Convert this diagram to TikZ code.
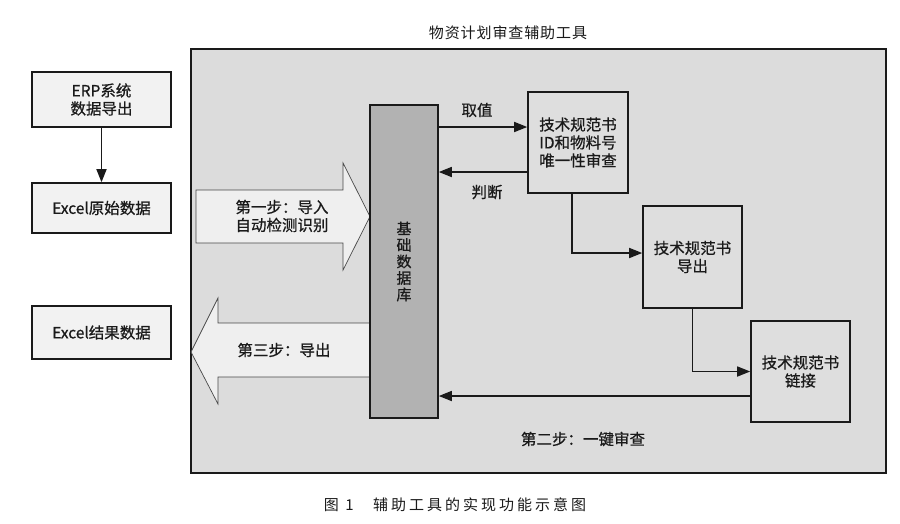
\documentclass[tikz,border=0pt]{standalone}
\usepackage{fontspec}
\setmainfont{Noto Sans CJK SC}
\newfontfamily\boxfont{Noto Sans CJK SC}[FakeBold=0.7]
\newfontfamily\capfont{Noto Sans CJK SC}[LetterSpace=20]
\usetikzlibrary{arrows.meta,calc}
\definecolor{framebg}{HTML}{DCDCDC}
\definecolor{boxbg}{HTML}{DEDEDE}
\definecolor{outbg}{HTML}{F2F2F2}
\definecolor{bigarr}{HTML}{EFEFEF}
\definecolor{dbbg}{HTML}{B2B2B2}
\definecolor{ink}{HTML}{1A1A1A}
\begin{document}
\begin{tikzpicture}[x=1pt,y=-1pt,
  txt/.style={font=\boxfont\fontsize{15.5}{18}\selectfont, text=ink, align=center},
  outbox/.style={draw=ink, line width=1.6pt, fill=outbg, inner sep=0pt, txt},
  inbox/.style={draw=ink, line width=1.6pt, fill=boxbg, inner sep=0pt, txt},
  arr/.style={draw=ink, line width=1.6pt, -{Triangle[length=13pt,width=10pt]}},
  bigarrow/.style={draw=ink!80, line width=0.7pt, fill=bigarr},
  lbl/.style={txt, inner sep=0pt}
]
\useasboundingbox (0,0) rectangle (900,523);
\fill[white] (0,0) rectangle (900,523);
% title
\node[lbl, font=\fontsize{15}{18}\selectfont\addfontfeature{LetterSpace=6}] (title) at (508,33) {物资计划审查辅助工具};
% frame
\node[draw=ink, line width=1.6pt, fill=framebg, minimum width=695pt, minimum height=424pt, inner sep=0pt] (frame) at (538.5,261) {};
% left boxes
\node[outbox, minimum width=139pt, minimum height=55pt] (erp) at (101.5,99.5) {ERP系统\\数据导出};
\node[outbox, minimum width=139pt, minimum height=50pt] (xls1) at (101.5,208) {Excel原始数据};
\node[outbox, minimum width=139pt, minimum height=53pt] (xls2) at (101.5,332.5) {Excel结果数据};
\draw[arr] (erp.south) -- (xls1.north);
% big arrows
\draw[bigarrow] (196,190) -- (343,190) -- (343,163) -- (370,216.5) -- (343,270) -- (343,243) -- (196,243) -- cycle;
\draw[bigarrow] (372,323) -- (218,323) -- (218,298) -- (191,352) -- (218,404) -- (218,377) -- (372,377);
\node[lbl] (step1) at (282,216) {第一步：导入\\自动检测识别};
\node[lbl] (step3) at (284,350) {第三步：导出};
% database column
\node[draw=ink, line width=1.6pt, fill=dbbg, minimum width=68pt, minimum height=313pt, inner sep=0pt,
      font=\boxfont\fontsize{15}{16.5}\selectfont, text=ink, align=center] (db) at (404,261.5) {基\\础\\数\\据\\库};
% right boxes
\node[inbox, minimum width=100pt, minimum height=101pt] (b1) at (578,142.5) {技术规范书\\ID和物料号\\唯一性审查};
\node[inbox, minimum width=99pt, minimum height=102pt] (b2) at (692.5,257) {技术规范书\\导出};
\node[inbox, minimum width=99pt, minimum height=101pt] (b3) at (800.5,371.5) {技术规范书\\链接};
% connectors
\draw[arr] (db.east |- 0,127) -- (b1.west |- 0,127);
\draw[arr] (b1.west |- 0,172) -- (db.east |- 0,172);
\draw[arr] (b1.south -| 572,0) |- (b2.west |- 0,253);
\draw[arr] (b2.south) |- (b3.west);
\draw[arr] (b3.west |- 0,396) -- (db.east |- 0,396);
% labels
\node[lbl] (quzhi) at (477,110) {取值};
\node[lbl] (panduan) at (487,192) {判断};
\node[lbl] (step2) at (583,439) {第二步：一键审查};
% caption
\node[lbl, font=\capfont\fontsize{15}{18}\selectfont] (caption) at (455,505) {图 1\hspace{1.3em}辅助工具的实现功能示意图};
\end{tikzpicture}
\end{document}
